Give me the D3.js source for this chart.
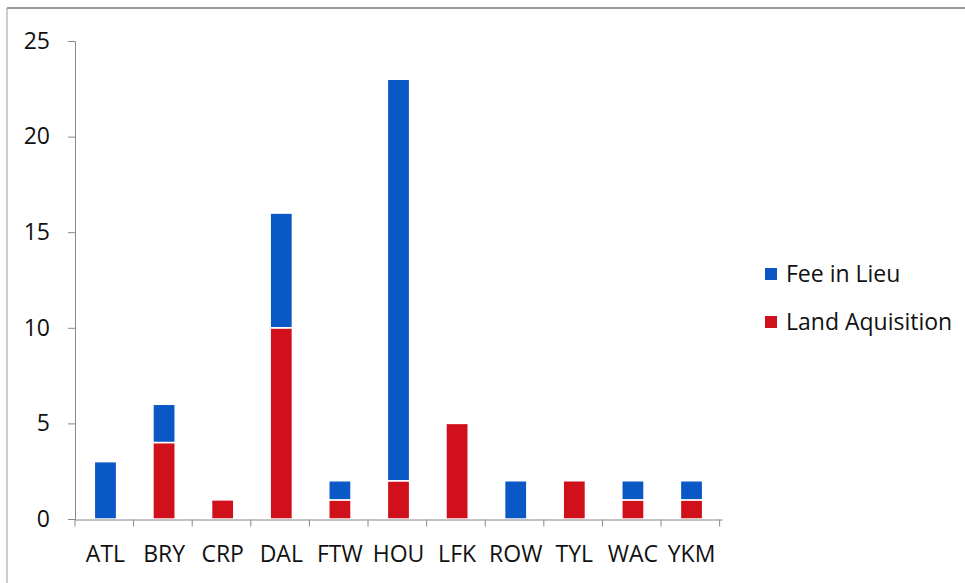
<!DOCTYPE html>
<html><head><meta charset="utf-8">
<script src="https://cdn.jsdelivr.net/npm/d3@7"></script>
<style>body{margin:0;background:#fff}svg{display:block}text{font-family:"Open Sans",Lato,sans-serif;fill:#111}</style>
</head><body><svg id="c" width="965" height="583"></svg>
<script>
const categories = ["ATL","BRY","CRP","DAL","FTW","HOU","LFK","ROW","TYL","WAC","YKM"];
const landAquisition = [0,4,1,10,1,2,5,0,2,1,1];
const feeInLieu = [3,2,0,6,1,21,0,2,0,1,1];
const seriesNames = ["Fee in Lieu","Land Aquisition"];
const yTicks = [0,5,10,15,20,25];
const colors = {"Land Aquisition":"#d0101b","Fee in Lieu":"#0a58c6"};
const FONT = "'Open Sans',Lato,sans-serif";

const svg = d3.select("#c");
// outer frame
svg.append("line").attr("x1",7).attr("x2",965).attr("y1",8).attr("y2",8).attr("stroke","#777").attr("stroke-width",1.5);
svg.append("line").attr("x1",7).attr("x2",7).attr("y1",8).attr("y2",583).attr("stroke","#999").attr("stroke-width",1);

const x = d3.scaleBand().domain(categories).range([75,722]).paddingInner(0.62).paddingOuter(0.33);
const y = d3.scaleLinear().domain([0,25]).range([519,41]);

const rows = categories.map((c,i)=>({cat:c,"Land Aquisition":landAquisition[i],"Fee in Lieu":feeInLieu[i]}));
const stack = d3.stack().keys(["Land Aquisition","Fee in Lieu"])(rows);

const g = svg.append("g");
stack.forEach(s=>{
  g.selectAll(null).data(s.filter(d=>d[1]>d[0])).enter().append("rect")
    .attr("x",d=>x(d.data.cat))
    .attr("width",x.bandwidth())
    .attr("y",d=>y(d[1]))
    .attr("height",d=>y(d[0])-y(d[1]))
    .attr("fill",colors[s.key])
    .attr("stroke","#fff").attr("stroke-width",1.5);
});

// y axis
const ya = svg.append("g").attr("transform","translate(75,0)")
  .call(d3.axisLeft(y).tickValues(yTicks).tickSize(7).tickPadding(18));
ya.select(".domain").attr("stroke","#8a86a0");
ya.selectAll(".tick line").attr("stroke","#888");
ya.selectAll("text").attr("font-size",23).attr("fill","#111").attr("font-family",FONT);

// x axis
const xa = svg.append("g").attr("transform","translate(0,519.5)")
  .call(d3.axisBottom(x).tickSize(0).tickPadding(26));
xa.select(".domain").attr("stroke","#888");
xa.selectAll("text").attr("font-size",23).attr("fill","#111").attr("font-family",FONT);
const step = x.step();
const bounds = d3.range(categories.length+1).map(i=>75+i*step);
xa.selectAll(".bt").data(bounds).enter().append("line").attr("class","bt")
  .attr("x1",d=>d).attr("x2",d=>d).attr("y1",0).attr("y2",7).attr("stroke","#888");

// legend
const lg = svg.append("g").attr("transform","translate(765,0)");
seriesNames.forEach((n,i)=>{
  const yy = 274 + i*48;
  lg.append("rect").attr("x",0).attr("y",yy-6).attr("width",12).attr("height",12).attr("fill",colors[n]);
  lg.append("text").attr("x",21).attr("y",yy+8).attr("font-size",23).attr("font-family",FONT).text(n);
});
</script></body></html>
